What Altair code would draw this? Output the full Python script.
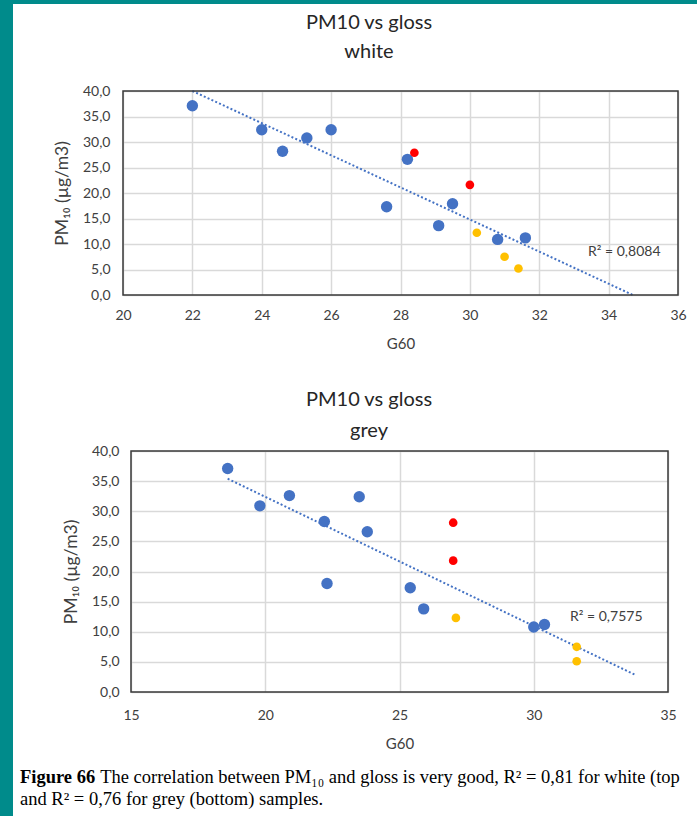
import altair as alt
import pandas as pd

# ---------------- data ----------------
white_blue_x = [22.0, 24.0, 24.6, 25.3, 26.0, 27.6, 28.2, 29.1, 29.5, 30.8, 31.6]
white_blue_y = [37.1, 32.4, 28.2, 30.8, 32.4, 17.3, 26.6, 13.6, 17.9, 10.9, 11.2]
white_red_x = [28.4, 30.0]
white_red_y = [27.9, 21.6]
white_yellow_x = [30.2, 31.0, 31.4]
white_yellow_y = [12.2, 7.5, 5.2]
white_trend_x = [22.0, 34.7]
white_trend_y = [40.0, 0.0]
white_r2 = "R² = 0,8084"

grey_blue_x = [18.6, 19.8, 20.9, 22.2, 22.3, 23.5, 23.8, 25.4, 25.9, 30.0, 30.4]
grey_blue_y = [37.1, 30.9, 32.6, 28.3, 18.0, 32.4, 26.6, 17.3, 13.8, 10.8, 11.2]
grey_red_x = [27.0, 27.0]
grey_red_y = [28.1, 21.8]
grey_yellow_x = [27.1, 31.6, 31.6]
grey_yellow_y = [12.3, 7.5, 5.1]
grey_trend_x = [18.6, 33.8]
grey_trend_y = [35.4, 2.8]
grey_r2 = "R² = 0,7575"

white_x_ticks = [20, 22, 24, 26, 28, 30, 32, 34, 36]
grey_x_ticks = [15, 20, 25, 30, 35]
y_ticks = [0, 5, 10, 15, 20, 25, 30, 35, 40]

title_main = "PM10 vs gloss"
title_white = "white"
title_grey = "grey"
x_title = "G60"
y_title = "PM₁₀  (µg/m3)"
caption_bold = "Figure 66"
caption_rest = "The correlation between PM₁₀ and gloss is very good, R² = 0,81 for white (top"
caption_line2 = "and R² = 0,76 for grey (bottom) samples."

# ---------------- styling ----------------
BLUE = "#4472C4"
RED = "#FF0000"
YEL = "#FFC000"
TEAL = "#008B8B"
FONT = "Lato"
TXT = "#404040"
FRAME = "#3a3a3a"
comma = "replace(format(datum.value, '.1f'), '.', ',')"

# panel geometry (canvas px).  Both panels share the origin x = 123;
# the bottom one starts its plot area 8 px further right.
OX = 123
TOY, TW, TH = 91, 555, 204
BOY, BW, BH, BSHIFT = 451, 545, 241, 8
SPLIT = 370
CAP_X = 20
CAP_FS = 18.5
CAP_Y1, CAP_Y2 = 783, 805


def pts(xs, ys):
    return pd.DataFrame({"g60": xs, "pm10": ys})


def one():
    return pd.DataFrame({"k": [0]})


def rect(x1, x2, y1, y2, color):
    return alt.Chart(one()).mark_rect(color=color).encode(
        x=alt.value(x1), x2=alt.value(x2), y=alt.value(y1), y2=alt.value(y2))


def frame(x1, x2, y1, y2):
    return alt.Chart(one()).mark_rect(
        fillOpacity=0, stroke=FRAME, strokeWidth=1.5).encode(
        x=alt.value(x1), x2=alt.value(x2), y=alt.value(y1), y2=alt.value(y2))


def label(s, x, y, size, font=FONT, color="#262626", align="center",
          weight="normal", limit=0, baseline="alphabetic"):
    kw = dict(text=s, font=font, fontSize=size, color=color, align=align,
              baseline=baseline, fontWeight=weight)
    if limit:
        kw.update(limit=limit, ellipsis="\u200b")
    return alt.Chart(one()).mark_text(**kw).encode(x=alt.value(x), y=alt.value(y))


def panel(series, trend, xdom, xticks, w, h, shift, oy, titles, r2, r2px,
          lab_pad_x, lab_pad_y, ttl_pad_x, ttl_pad_y, extras):
    xs = alt.Scale(domain=xdom, nice=False, zero=False, range=[shift, w])
    ys = alt.Scale(domain=[0, 40], nice=False)
    xaxis = alt.Axis(values=xticks, tickCount=len(xticks), grid=True,
                     ticks=False, domain=False, labelFlush=False,
                     labelFont=FONT, labelFontSize=14, labelColor=TXT,
                     labelPadding=lab_pad_x, labelOverlap=False,
                     title=x_title, titleFont=FONT,
                     titleFontSize=15, titleFontWeight="normal", titleColor=TXT,
                     titlePadding=ttl_pad_x, gridColor="#d9d9d9", gridWidth=1.5)
    yaxis = alt.Axis(values=y_ticks, tickCount=len(y_ticks), labelExpr=comma,
                     grid=True, ticks=False, domain=False, labelFlush=False,
                     labelFont=FONT, labelFontSize=14, labelColor=TXT,
                     labelPadding=lab_pad_y, labelOverlap=False,
                     offset=-shift, title=y_title,
                     titleFont=FONT, titleFontSize=17.5,
                     titleFontWeight="normal", titleColor=TXT,
                     titlePadding=ttl_pad_y,
                     gridColor="#d9d9d9", gridWidth=1.5)
    layers = []
    layers.append(alt.Chart(pts(*trend)).mark_line(
        color=BLUE, strokeWidth=2, strokeDash=[2, 2.2]).encode(
        x=alt.X("g60:Q", scale=xs, axis=xaxis),
        y=alt.Y("pm10:Q", scale=ys, axis=yaxis)))
    for (xv, yv), col, size in series:
        layers.append(alt.Chart(pts(xv, yv)).mark_circle(
            color=col, opacity=1, size=size).encode(
            x=alt.X("g60:Q", scale=xs, axis=xaxis),
            y=alt.Y("pm10:Q", scale=ys, axis=yaxis)))
    layers.append(frame(shift, w, 0, h))
    layers.append(label(r2, r2px[0], r2px[1], 14, color=TXT, align="left",
                        baseline="middle"))
    layers.append(label(title_main, 369 - OX, titles[0] - oy, 20))
    layers.append(label(titles[2], 369 - OX, titles[1] - oy, 20))
    layers += extras
    return alt.layer(*layers).properties(width=w, height=h)


top_extras = [
    rect(-OX, 13 - OX, -TOY, SPLIT - TOY, TEAL),
    rect(-OX, 697 - OX, -TOY, 4 - TOY, TEAL),
]
bold_w = 4.083 * CAP_FS + 0.25 * CAP_FS
bot_extras = [
    rect(-OX, 13 - OX, SPLIT - BOY, 816 - BOY, TEAL),
    label(caption_bold, CAP_X - OX, CAP_Y1 - BOY, CAP_FS,
          font="Liberation Serif", color="#000000", align="left",
          weight="bold"),
    label(caption_rest, CAP_X + bold_w - OX, CAP_Y1 - BOY, CAP_FS,
          font="Liberation Serif", color="#000000", align="left",
          limit=697 - CAP_X - bold_w),
    label(caption_line2, CAP_X - OX, CAP_Y2 - BOY, CAP_FS,
          font="Liberation Serif", color="#000000", align="left"),
]

top = panel(
    [((white_blue_x, white_blue_y), BLUE, 130),
     ((white_red_x, white_red_y), RED, 75),
     ((white_yellow_x, white_yellow_y), YEL, 75)],
    (white_trend_x, white_trend_y), [20, 36], white_x_ticks, TW, TH, 0, TOY,
    (29, 58, title_white), white_r2, (588 - OX, 252 - TOY),
    13, 13, 14, 11, top_extras)

bottom = panel(
    [((grey_blue_x, grey_blue_y), BLUE, 130),
     ((grey_red_x, grey_red_y), RED, 75),
     ((grey_yellow_x, grey_yellow_y), YEL, 75)],
    (grey_trend_x, grey_trend_y), [15, 35], grey_x_ticks, BW, BH, BSHIFT, BOY,
    (406, 437, title_grey), grey_r2, (570 - OX, 617 - BOY),
    16, 12, 14, 11, bot_extras)

chart = alt.vconcat(top, bottom, spacing=0).properties(
    padding=0
).configure(background="white").configure_view(stroke=None)

chart.save("out.html", embed_options={"renderer": "svg", "actions": False})
